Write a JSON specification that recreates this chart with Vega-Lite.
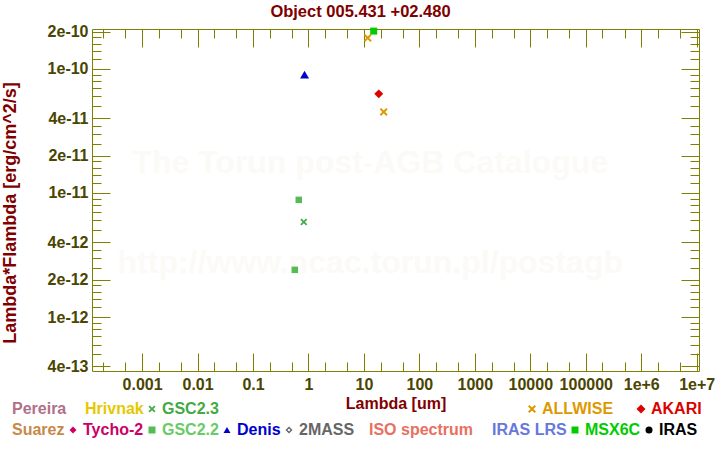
{
  "$schema": "https://vega.github.io/schema/vega-lite/v6.json",
  "width": 607,
  "height": 342,
  "autosize": {"type": "none"},
  "padding": {"left": 92, "top": 29, "right": 21, "bottom": 79},
  "background": "white",
  "title": {"text": "Object 005.431 +02.480", "fontSize": 16.5, "fontWeight": "bold", "color": "#800000", "font": "Liberation Sans", "dx": -35, "offset": 3},
  "config": {
    "view": {"stroke": "#808000", "strokeWidth": 1},
    "font": "Liberation Sans",
    "axis": {"domain": false, "grid": false, "labelFont": "Liberation Sans", "labelFontSize": 16, "labelFontWeight": "bold", "labelColor": "#4a4500", "tickColor": "#808000", "tickWidth": 1, "titleFont": "Liberation Sans", "titleFontSize": 16, "titleFontWeight": "bold", "titleColor": "#800000", "labelOverlap": false, "labelFlush": false},
    "legend": {"padding": 0, "labelFont": "Liberation Sans", "labelFontSize": 16, "labelFontWeight": "bold", "labelLimit": 300, "symbolSize": 49, "columnPadding": 2, "labelOffset": 2, "symbolStrokeWidth": 0}
  },
  "data": {"values": [
    {"survey": "GSC2.3", "lambda": 0.823, "flux": 5.83e-12},
    {"survey": "GSC2.2", "lambda": 0.668, "flux": 8.8e-12},
    {"survey": "GSC2.2", "lambda": 0.567, "flux": 2.4e-12},
    {"survey": "Denis", "lambda": 0.85, "flux": 9.0e-11},
    {"survey": "ALLWISE", "lambda": 11.7, "flux": 1.78e-10},
    {"survey": "ALLWISE", "lambda": 22.7, "flux": 4.5e-11},
    {"survey": "AKARI", "lambda": 18.5, "flux": 6.3e-11},
    {"survey": "MSX6C", "lambda": 15.0, "flux": 2.02e-10}
  ]},
  "layer": [
    {
      "data": {"values": [{"label": "The Torun post-AGB Catalogue"}]},
      "mark": {"type": "text", "fontSize": 32, "fontWeight": "bold", "font": "Liberation Sans", "color": "#fcfaf6", "baseline": "middle", "align": "center"},
      "encoding": {
        "text": {"field": "label"},
        "x": {"datum": 13, "type": "quantitative", "scale": {"type": "log", "domain": [1.25e-4, 1.1e7], "nice": false, "zero": false},
          "axis": {"orient": "bottom", "values": [0.001, 0.01, 0.1, 1, 10, 100, 1000, 10000, 100000, 1000000, 10000000], "tickSize": -18, "labelPadding": 23, "labelExpr": "datum.value >= 1000000 ? (datum.value >= 10000000 ? '1e+7' : '1e+6') : format(datum.value, '~f')", "title": "Lambda [um]", "titlePadding": 3}},
        "y": {"datum": 1.75e-11, "type": "quantitative", "scale": {"type": "log", "domain": [3.67e-13, 2.1e-10], "nice": false, "zero": false},
          "axis": {"orient": "left", "values": [4e-13, 1e-12, 2e-12, 4e-12, 1e-11, 2e-11, 4e-11, 1e-10, 2e-10], "tickSize": -18, "labelPadding": 22, "labelExpr": "format(datum.value, '.0e')", "title": "Lambda*Flambda [erg/cm^2/s]", "titleFontSize": 18, "titlePadding": 28, "titleY": 183.5}}
      }
    },
    {
      "data": {"values": [{"label": "http://www.ncac.torun.pl/postagb"}]},
      "mark": {"type": "text", "fontSize": 32, "fontWeight": "bold", "font": "Liberation Sans", "color": "#fcfaf6", "baseline": "middle", "align": "center"},
      "encoding": {
        "text": {"field": "label"},
        "x": {"datum": 13, "type": "quantitative", "scale": {"type": "log", "domain": [1.25e-4, 1.1e7], "nice": false, "zero": false},
          "axis": {"orient": "top", "values": [0.001, 0.01, 0.1, 1, 10, 100, 1000, 10000, 100000, 1000000, 10000000], "tickSize": -18, "labels": false, "title": null}},
        "y": {"datum": 2.74e-12, "type": "quantitative", "scale": {"type": "log", "domain": [3.67e-13, 2.1e-10], "nice": false, "zero": false},
          "axis": {"orient": "right", "values": [4e-13, 1e-12, 2e-12, 4e-12, 1e-11, 2e-11, 4e-11, 1e-10, 2e-10], "tickSize": -18, "labels": false, "title": null}}
      }
    },
    {
      "transform": [{"filter": {"field": "survey", "oneOf": ["GSC2.3"]}}],
      "mark": {"type": "point", "filled": true, "size": 49, "opacity": 1},
      "encoding": {
        "x": {"field": "lambda", "type": "quantitative", "scale": {"type": "log", "domain": [1.25e-4, 1.1e7], "nice": false, "zero": false},
          "axis": {"orient": "bottom", "values": [0.0002, 0.0005, 0.002, 0.005, 0.02, 0.05, 0.2, 0.5, 2, 5, 20, 50, 200, 500, 2000, 5000, 20000, 50000, 200000, 500000, 2000000, 5000000], "tickSize": -9, "labels": false, "title": null}},
        "y": {"field": "flux", "type": "quantitative", "scale": {"type": "log", "domain": [3.67e-13, 2.1e-10], "nice": false, "zero": false},
          "axis": {"orient": "left", "values": [5e-13, 6e-13, 7e-13, 8e-13, 9e-13, 1.2e-12, 1.4e-12, 1.6e-12, 1.8e-12, 2.5e-12, 3e-12, 3.5e-12, 5e-12, 6e-12, 7e-12, 8e-12, 9e-12, 1.2e-11, 1.4e-11, 1.6e-11, 1.8e-11, 2.5e-11, 3e-11, 3.5e-11, 5e-11, 6e-11, 7e-11, 8e-11, 9e-11, 1.2e-10, 1.4e-10, 1.6e-10, 1.8e-10], "tickSize": -9, "labels": false, "title": null}},
        "color": {"field": "survey", "type": "nominal",
          "scale": {"domain": ["Pereira", "Hrivnak", "GSC2.3"], "range": ["#b0708a", "#e6c800", "#44aa44"]},
          "legend": {"orient": "none", "legendX": -98, "legendY": 372, "direction": "horizontal", "columns": 3, "columnPadding": -4, "title": null, "labelColor": {"expr": "['#b0708a','#e6c800','#44aa44'][indexof(['Pereira','Hrivnak','GSC2.3'], datum.value)]"}}},
        "shape": {"field": "survey", "type": "nominal",
          "scale": {"domain": ["Pereira", "Hrivnak", "GSC2.3"], "range": ["M0,0Z", "M0,0Z", "M-1,-0.65L-0.65,-1L0,-0.35L0.65,-1L1,-0.65L0.35,0L1,0.65L0.65,1L0,0.35L-0.65,1L-1,0.65L-0.35,0Z"]},
          "legend": {"orient": "none", "legendX": -98, "legendY": 372, "direction": "horizontal", "columns": 3, "columnPadding": -4, "title": null, "labelColor": {"expr": "['#b0708a','#e6c800','#44aa44'][indexof(['Pereira','Hrivnak','GSC2.3'], datum.value)]"}}}
      }
    },
    {
      "transform": [{"filter": {"field": "survey", "oneOf": ["ALLWISE", "AKARI"]}}],
      "mark": {"type": "point", "filled": true, "opacity": 1},
      "encoding": {
        "x": {"field": "lambda", "type": "quantitative", "scale": {"type": "log", "domain": [1.25e-4, 1.1e7], "nice": false, "zero": false},
          "axis": {"orient": "top", "values": [0.0002, 0.0005, 0.002, 0.005, 0.02, 0.05, 0.2, 0.5, 2, 5, 20, 50, 200, 500, 2000, 5000, 20000, 50000, 200000, 500000, 2000000, 5000000], "tickSize": -9, "labels": false, "title": null}},
        "y": {"field": "flux", "type": "quantitative", "scale": {"type": "log", "domain": [3.67e-13, 2.1e-10], "nice": false, "zero": false},
          "axis": {"orient": "right", "values": [5e-13, 6e-13, 7e-13, 8e-13, 9e-13, 1.2e-12, 1.4e-12, 1.6e-12, 1.8e-12, 2.5e-12, 3e-12, 3.5e-12, 5e-12, 6e-12, 7e-12, 8e-12, 9e-12, 1.2e-11, 1.4e-11, 1.6e-11, 1.8e-11, 2.5e-11, 3e-11, 3.5e-11, 5e-11, 6e-11, 7e-11, 8e-11, 9e-11, 1.2e-10, 1.4e-10, 1.6e-10, 1.8e-10], "tickSize": -9, "labels": false, "title": null}},
        "size": {"field": "survey", "type": "nominal", "scale": {"type": "ordinal", "domain": ["ALLWISE", "AKARI"], "range": [64, 80]}, "legend": null},
        "color": {"field": "survey", "type": "nominal",
          "scale": {"domain": ["ALLWISE", "AKARI"], "range": ["#dd9900", "#dd0000"]},
          "legend": {"orient": "none", "legendX": 432, "legendY": 372, "direction": "horizontal", "columns": 2, "columnPadding": 19, "title": null, "labelColor": {"expr": "['#dd9900','#dd0000'][indexof(['ALLWISE','AKARI'], datum.value)]"}}},
        "shape": {"field": "survey", "type": "nominal",
          "scale": {"domain": ["ALLWISE", "AKARI"], "range": ["M-1,-0.65L-0.65,-1L0,-0.35L0.65,-1L1,-0.65L0.35,0L1,0.65L0.65,1L0,0.35L-0.65,1L-1,0.65L-0.35,0Z", "diamond"]},
          "legend": {"orient": "none", "legendX": 432, "legendY": 372, "direction": "horizontal", "columns": 2, "columnPadding": 19, "title": null, "labelColor": {"expr": "['#dd9900','#dd0000'][indexof(['ALLWISE','AKARI'], datum.value)]"}}}
      }
    },
    {
      "transform": [{"filter": {"field": "survey", "oneOf": ["GSC2.2", "Denis"]}}],
      "mark": {"type": "point", "filled": true, "opacity": 1},
      "encoding": {
        "x": {"field": "lambda", "type": "quantitative", "scale": {"type": "log", "domain": [1.25e-4, 1.1e7], "nice": false, "zero": false}, "axis": null},
        "y": {"field": "flux", "type": "quantitative", "scale": {"type": "log", "domain": [3.67e-13, 2.1e-10], "nice": false, "zero": false}, "axis": null},
        "size": {"field": "survey", "type": "nominal", "scale": {"type": "ordinal", "domain": ["GSC2.2", "Denis"], "range": [42, 80]}, "legend": null},
        "color": {"field": "survey", "type": "nominal",
          "scale": {"domain": ["Suarez", "Tycho-2", "GSC2.2", "Denis", "2MASS"], "range": ["#c8884a", "#cc0066", "#55bb55", "#0000cc", "#666666"]},
          "legend": {"orient": "none", "legendX": -98, "legendY": 393, "direction": "horizontal", "columns": 5, "columnPadding": 0, "title": null, "labelColor": {"expr": "['#c8884a','#cc0066','#66cc66','#0000cc','#666666'][indexof(['Suarez','Tycho-2','GSC2.2','Denis','2MASS'], datum.value)]"}}},
        "shape": {"field": "survey", "type": "nominal",
          "scale": {"domain": ["Suarez", "Tycho-2", "GSC2.2", "Denis", "2MASS"], "range": ["M0,0Z", "diamond", "square", "triangle-up", "M0,-1L1,0L0,1L-1,0Z M0,-0.45L-0.45,0L0,0.45L0.45,0Z"]},
          "legend": {"orient": "none", "legendX": -98, "legendY": 393, "direction": "horizontal", "columns": 5, "columnPadding": 0, "title": null, "labelColor": {"expr": "['#c8884a','#cc0066','#66cc66','#0000cc','#666666'][indexof(['Suarez','Tycho-2','GSC2.2','Denis','2MASS'], datum.value)]"}}}
      }
    },
    {
      "transform": [{"filter": {"field": "survey", "oneOf": ["MSX6C"]}}],
      "mark": {"type": "point", "filled": true, "size": 49, "opacity": 1},
      "encoding": {
        "x": {"field": "lambda", "type": "quantitative", "scale": {"type": "log", "domain": [1.25e-4, 1.1e7], "nice": false, "zero": false}, "axis": null},
        "y": {"field": "flux", "type": "quantitative", "scale": {"type": "log", "domain": [3.67e-13, 2.1e-10], "nice": false, "zero": false}, "axis": null},
        "color": {"field": "survey", "type": "nominal",
          "scale": {"domain": ["ISO spectrum", "IRAS LRS", "MSX6C", "IRAS"], "range": ["#e87060", "#6677dd", "#00cc00", "#000000"]},
          "legend": {"orient": "none", "legendX": 259, "legendY": 393, "direction": "horizontal", "columns": 4, "columnPadding": 0, "title": null, "labelColor": {"expr": "['#e87060','#6677dd','#00cc00','#000000'][indexof(['ISO spectrum','IRAS LRS','MSX6C','IRAS'], datum.value)]"}}},
        "shape": {"field": "survey", "type": "nominal",
          "scale": {"domain": ["ISO spectrum", "IRAS LRS", "MSX6C", "IRAS"], "range": ["M0,0Z", "M0,0Z", "square", "circle"]},
          "legend": {"orient": "none", "legendX": 259, "legendY": 393, "direction": "horizontal", "columns": 4, "columnPadding": 0, "title": null, "labelColor": {"expr": "['#e87060','#6677dd','#00cc00','#000000'][indexof(['ISO spectrum','IRAS LRS','MSX6C','IRAS'], datum.value)]"}}}
      }
    }
  ],
  "resolve": {"axis": {"x": "independent", "y": "independent"}, "scale": {"color": "independent", "shape": "independent", "size": "independent"}}
}
